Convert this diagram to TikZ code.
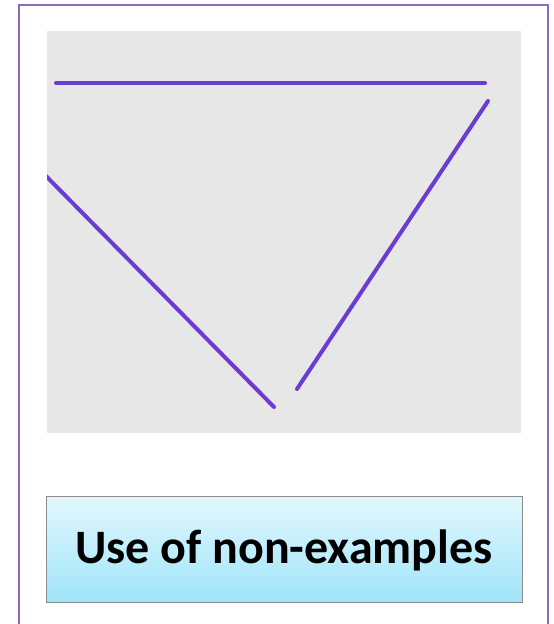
\documentclass[tikz,border=0pt]{standalone}
\usepackage{fontspec}
\setmainfont{Carlito}
\definecolor{frame}{HTML}{8C6BB8}
\definecolor{panel}{HTML}{E7E7E7}
\definecolor{lineviolet}{HTML}{6A3CD2}
\definecolor{btop}{HTML}{E2F7FD}
\definecolor{bbot}{HTML}{9FE5FA}
\definecolor{bedge}{HTML}{8C8C8C}
\tikzset{seg/.style={draw=lineviolet, line width=4pt, line cap=round}}
\begin{document}
\begin{tikzpicture}[x=1pt,y=-1pt]
\useasboundingbox (0,0) rectangle (554,624);
\fill[white] (0,0) rectangle (554,624);
\draw[frame, line width=2.4pt] (19,630) -- (19,5) -- (548,5) -- (548,630);
\node[draw=none, fill=panel, minimum width=474pt, minimum height=402pt, inner sep=0pt, anchor=north west] (panel) at (47,31) {};
\coordinate (a1) at (56,83);
\coordinate (a2) at (485,83);
\coordinate (b1) at (488,101);
\coordinate (b2) at (297,389);
\coordinate (c1) at (43,173);
\coordinate (c2) at (274,407);
\draw[seg] (a1) -- (a2);
\draw[seg] (b1) -- (b2);
\begin{scope}
\clip (panel.north west) rectangle (panel.south east);
\draw[seg] (c1) -- (c2);
\end{scope}
\node[draw=bedge, line width=1pt, top color=btop, bottom color=bbot, minimum width=476pt, minimum height=106pt, inner sep=0pt, anchor=north west] (label) at (46,496) {};
\node[font=\bfseries\fontsize{48}{56}\selectfont, anchor=base, inner sep=0pt] (labeltext) at (284,563) {Use of non-examples};
\end{tikzpicture}
\end{document}
